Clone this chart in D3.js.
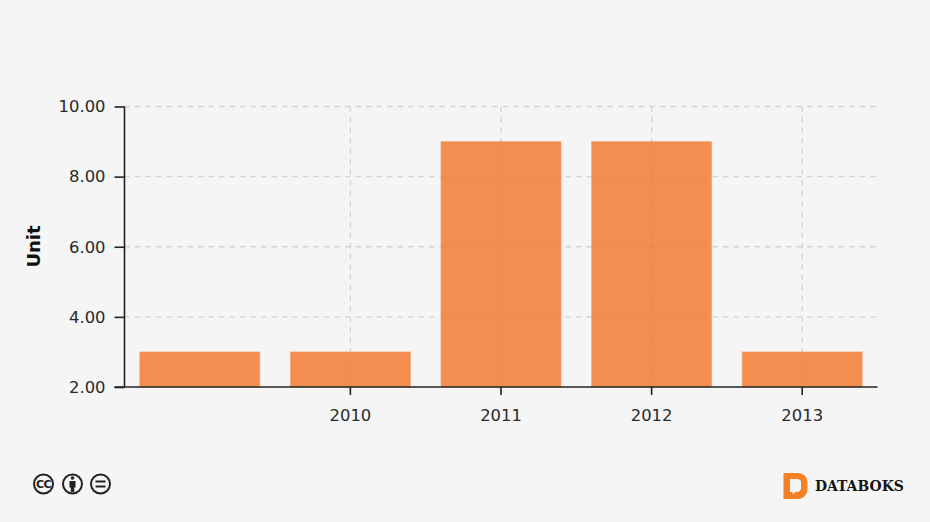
<!DOCTYPE html>
<html><head><meta charset="utf-8">
<script src="https://cdn.jsdelivr.net/npm/d3@7"></script>
<style>
html,body{margin:0;padding:0;background:#f5f5f5;overflow:hidden}
text{font-family:"DejaVu Sans",Verdana,sans-serif}
</style></head><body>
<svg id="c" width="930" height="522"></svg>
<script>
const categories = ["", "2010", "2011", "2012", "2013"];
const values = [3, 3, 9, 9, 3];
const yTicks = [2, 4, 6, 8, 10];
const yLabel = "Unit";
const brand = "DATABOKS";

const svg = d3.select("#c");
const plotL = 124.5, plotR = 877.5, plotT = 106.5, plotB = 387;
const x = d3.scaleBand().domain(categories).range([plotL, plotR]).padding(0.2).paddingOuter(0.1);
const y = d3.scaleLinear().domain([2, 10]).range([plotB, plotT]);
const ink = "#222";

// grid
const grid = svg.append("g").attr("stroke", "#d4d4d4").attr("stroke-dasharray", "5.5 5").attr("stroke-width", 1.4);
grid.selectAll("line.h").data(yTicks.slice(1)).join("line").attr("class", "h")
  .attr("x1", plotL).attr("x2", plotR).attr("y1", d => y(d)).attr("y2", d => y(d));
grid.selectAll("line.v").data(categories.filter(d => d)).join("line").attr("class", "v")
  .attr("x1", d => x(d) + x.bandwidth() / 2).attr("x2", d => x(d) + x.bandwidth() / 2)
  .attr("y1", plotT).attr("y2", plotB);

// bars
svg.append("g").selectAll("rect").data(values).join("rect")
  .attr("x", (d, i) => x(categories[i]) + 0.2)
  .attr("width", x.bandwidth() - 0.4)
  .attr("y", d => y(d))
  .attr("height", d => y(2) - y(d))
  .attr("fill", "#f27b34").attr("fill-opacity", .86)
  .attr("stroke", "#f7a273").attr("stroke-width", 1).attr("stroke-opacity", .6);

// axes
const gy = svg.append("g").attr("transform", `translate(${plotL},0)`)
  .call(d3.axisLeft(y).tickValues(yTicks).tickFormat(d3.format(".2f")).tickSize(10).tickPadding(9).tickSizeOuter(0));
const gx = svg.append("g").attr("transform", `translate(0,${plotB})`)
  .call(d3.axisBottom(x).tickSize(8).tickPadding(11).tickSizeOuter(0));
gx.selectAll(".tick").filter(d => d === "").select("line").remove();
[gx, gy].forEach(g => {
  g.selectAll("path,line").attr("stroke", ink).attr("stroke-width", 1.6);
  g.selectAll("text").attr("fill", "#2a2a2a").style("font-size", "16.4px").style("font-family", '"DejaVu Sans"');
});
gy.select("path").attr("d", `M0,${plotT}V${plotB}`);
gx.select("path").attr("d", `M${plotL - 10},0H${plotR}`);
gx.selectAll("text").attr("dy", "0.9em");

svg.append("text").attr("transform", "translate(40,246.500) rotate(-90)").attr("text-anchor", "middle")
  .attr("font-weight", "bold").attr("font-size", 18).attr("fill", "#111").text(yLabel);

// licence badges
const badges = svg.append("g").attr("fill", "none").attr("stroke", "#222");
[43.5, 72.5, 100.5].forEach(cx => badges.append("circle").attr("cx", cx).attr("cy", 484).attr("r", 9.5).attr("stroke-width", 2));
badges.append("text").attr("x", 43.5).attr("y", 488).attr("text-anchor", "middle").attr("font-size", 11)
  .attr("font-weight", "bold").attr("fill", "#222").attr("stroke", "none").attr("letter-spacing", "-.5").text("CC");
badges.append("circle").attr("cx", 72.5).attr("cy", 478).attr("r", 1.8).attr("fill", "#222").attr("stroke", "none");
badges.append("path").attr("fill", "#222").attr("stroke", "none")
  .attr("d", "M69.500 481h6v6.500h-1.300v4.500h-3.400v-4.500h-1.300z");
badges.append("path").attr("stroke-width", 2).attr("d", "M95.500 481.500h10M95.500 486.500h10");

// brand
svg.append("path").attr("fill", "#f58025")
  .attr("fill-rule", "evenodd")
  .attr("d", "M783.500 473h14c6 0 10 4 10 10v6c0 5-4 10-10 10h-14zM790 479v13h2l1.500 2.500 1.500-2.500h2c2 0 4-1.500 4-4v-6c0-2-2-3-4-3z");
svg.append("text").attr("x", 815).attr("y", 491).attr("font-size", 15.500).attr("font-weight", "bold")
  .style("font-family", '"DejaVu Serif"').style("font-stretch", "condensed").attr("fill", "#141414").text(brand);
</script>
</body></html>
